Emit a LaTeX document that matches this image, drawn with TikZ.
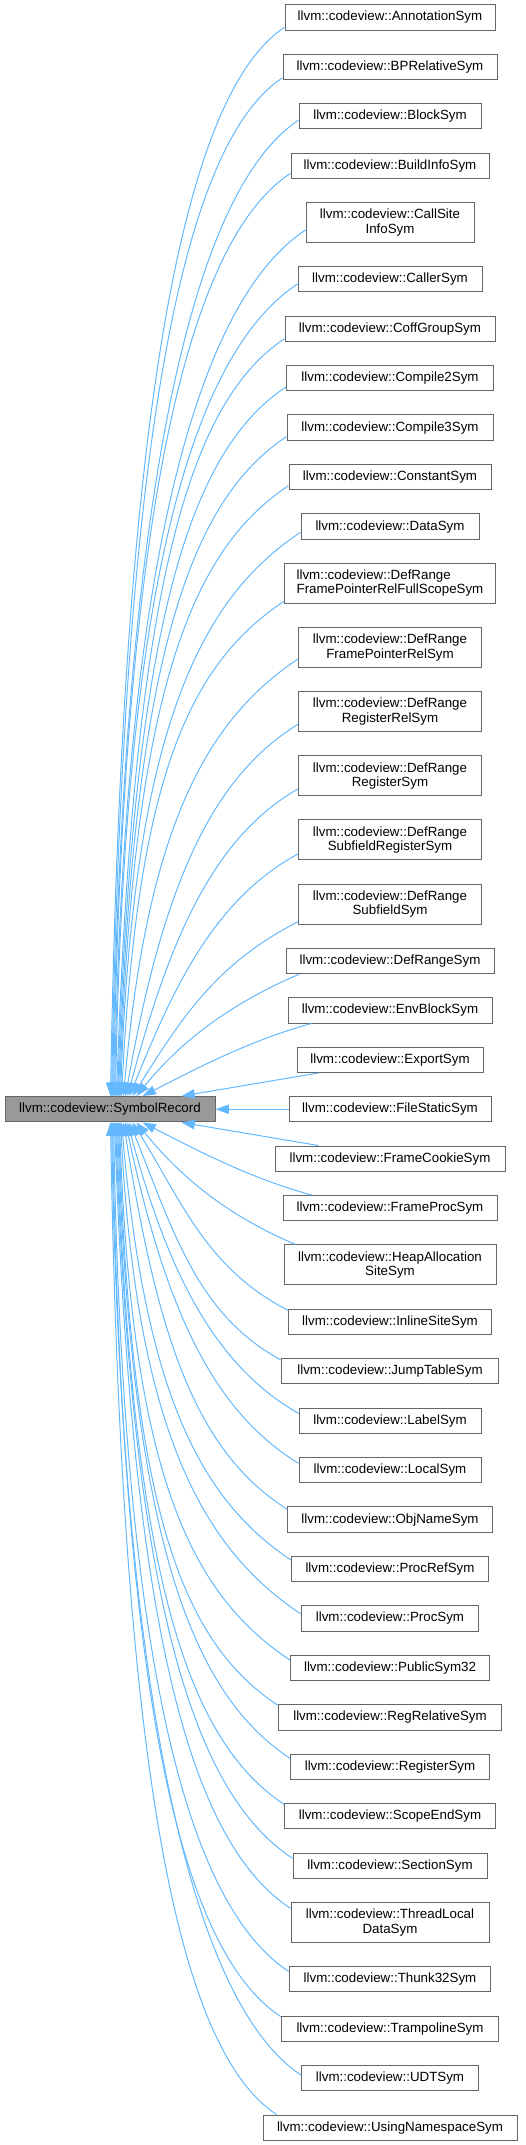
\documentclass[tikz,border=0pt]{standalone}
\usepackage{fontspec}
\setmainfont{Liberation Sans}
\usetikzlibrary{arrows.meta,calc}
\definecolor{edgeblue}{HTML}{63B8FF}
\definecolor{boxgray}{HTML}{666666}
\definecolor{recfill}{HTML}{999999}
\tikzset{
  cls/.style={draw=boxgray, fill=white, line width=0.75pt, text=black,
    font=\fontsize{10pt}{10.7pt}\selectfont, align=center,
    inner xsep=2pt, inner ysep=1pt, minimum height=19pt},
  two/.style={minimum height=30pt},
  bw/.style={minimum width=#1*0.75pt},
  parent/.style={cls, fill=recfill},
  edge/.style={draw=edgeblue, line width=0.75pt, -{Triangle[length=10pt,width=7pt]}}
}
\begin{document}
\begin{tikzpicture}[x=0.75pt,y=-0.75pt]
\useasboundingbox (0,0) rectangle (525,2145);
\node[parent, bw=210] (rec) at (110,1109.25) {llvm::codeview::SymbolRecord};
\node[cls, bw=210] (c1) at (390,17.35) {llvm::codeview::AnnotationSym};
\node[cls, bw=214] (c2) at (390,66.8) {llvm::codeview::BPRelativeSym};
\node[cls, bw=182] (c3) at (390,116.25) {llvm::codeview::BlockSym};
\node[cls, bw=198] (c4) at (390,165.7) {llvm::codeview::BuildInfoSym};
\node[cls, two, bw=168] (c5) at (390,222.5) {llvm::codeview::CallSite\\InfoSym};
\node[cls, bw=184] (c6) at (390,279.3) {llvm::codeview::CallerSym};
\node[cls, bw=210] (c7) at (390,328.75) {llvm::codeview::CoffGroupSym};
\node[cls, bw=207] (c8) at (390,378.2) {llvm::codeview::Compile2Sym};
\node[cls, bw=206] (c9) at (390,427.65) {llvm::codeview::Compile3Sym};
\node[cls, bw=202] (c10) at (390,477.1) {llvm::codeview::ConstantSym};
\node[cls, bw=178] (c11) at (390,526.55) {llvm::codeview::DataSym};
\node[cls, two, bw=211, align=left] (c12) at (390,583.35) {llvm::codeview::DefRange\\FramePointerRelFullScopeSym};
\node[cls, two, bw=183] (c13) at (390,647.5) {llvm::codeview::DefRange\\FramePointerRelSym};
\node[cls, two, bw=183] (c14) at (390,711.65) {llvm::codeview::DefRange\\RegisterRelSym};
\node[cls, two, bw=183] (c15) at (390,775.8) {llvm::codeview::DefRange\\RegisterSym};
\node[cls, two, bw=183] (c16) at (390,839.95) {llvm::codeview::DefRange\\SubfieldRegisterSym};
\node[cls, two, bw=183] (c17) at (390,904.1) {llvm::codeview::DefRange\\SubfieldSym};
\node[cls, bw=208] (c18) at (390,960.9) {llvm::codeview::DefRangeSym};
\node[cls, bw=204] (c19) at (390,1010.35) {llvm::codeview::EnvBlockSym};
\node[cls, bw=186] (c20) at (390,1059.8) {llvm::codeview::ExportSym};
\node[cls, bw=202] (c21) at (390,1109.25) {llvm::codeview::FileStaticSym};
\node[cls, bw=230] (c22) at (390,1158.7) {llvm::codeview::FrameCookieSym};
\node[cls, bw=214] (c23) at (390,1208.15) {llvm::codeview::FrameProcSym};
\node[cls, two, bw=212] (c24) at (390,1264.95) {llvm::codeview::HeapAllocation\\SiteSym};
\node[cls, bw=203] (c25) at (390,1321.75) {llvm::codeview::InlineSiteSym};
\node[cls, bw=217] (c26) at (390,1371.2) {llvm::codeview::JumpTableSym};
\node[cls, bw=182] (c27) at (390,1420.65) {llvm::codeview::LabelSym};
\node[cls, bw=182] (c28) at (390,1470.1) {llvm::codeview::LocalSym};
\node[cls, bw=205] (c29) at (390,1519.55) {llvm::codeview::ObjNameSym};
\node[cls, bw=197] (c30) at (390,1569.0) {llvm::codeview::ProcRefSym};
\node[cls, bw=177] (c31) at (390,1618.45) {llvm::codeview::ProcSym};
\node[cls, bw=199] (c32) at (390,1667.9) {llvm::codeview::PublicSym32};
\node[cls, bw=223] (c33) at (390,1717.35) {llvm::codeview::RegRelativeSym};
\node[cls, bw=199] (c34) at (390,1766.8) {llvm::codeview::RegisterSym};
\node[cls, bw=211] (c35) at (390,1816.25) {llvm::codeview::ScopeEndSym};
\node[cls, bw=194] (c36) at (390,1865.7) {llvm::codeview::SectionSym};
\node[cls, two, bw=198] (c37) at (390,1922.5) {llvm::codeview::ThreadLocal\\DataSym};
\node[cls, bw=201] (c38) at (390,1979.3) {llvm::codeview::Thunk32Sym};
\node[cls, bw=217] (c39) at (390,2028.75) {llvm::codeview::TrampolineSym};
\node[cls, bw=177] (c40) at (390,2078.2) {llvm::codeview::UDTSym};
\node[cls, bw=254] (c41) at (390,2127.65) {llvm::codeview::UsingNamespaceSym};
% edges from the upper children
\draw[edge] ($(c1.west)+(0,10)$) .. controls +(-100,66) and +(12,-695) .. ($(rec.north west)+(106,0)$);
\draw[edge] ($(c2.west)+(0,11)$) .. controls +(-100,66) and +(12,-662) .. ($(rec.north west)+(107,0)$);
\draw[edge] ($(c3.west)+(0,4)$) .. controls +(-100,66) and +(11,-635) .. ($(rec.north west)+(108,0)$);
\draw[edge] ($(c4.west)+(0,7.6)$) .. controls +(-100,66) and +(10,-600) .. ($(rec.north west)+(109,0)$);
\draw[edge] ($(c5.west)+(0,7.5)$) .. controls +(-100,66) and +(10,-564) .. ($(rec.north west)+(110,0)$);
\draw[edge] ($(c6.west)+(0,4.7)$) .. controls +(-100,66) and +(9,-528) .. ($(rec.north west)+(111,0)$);
\draw[edge] ($(c7.west)+(0,10)$) .. controls +(-100,66) and +(17,-493) .. ($(rec.north west)+(112,0)$);
\draw[edge] ($(c8.west)+(0,8.8)$) .. controls +(-100,66) and +(16,-461) .. ($(rec.north west)+(113,0)$);
\draw[edge] ($(c9.west)+(0,9)$) .. controls +(-100,66) and +(15,-429) .. ($(rec.north west)+(114,0)$);
\draw[edge] ($(c10.west)+(0,8.6)$) .. controls +(-100,66) and +(14,-397) .. ($(rec.north west)+(115,0)$);
\draw[edge] ($(c11.west)+(0,5.8)$) .. controls +(-100,66) and +(13,-367) .. ($(rec.north west)+(116,0)$);
\draw[edge] ($(c12.west)+(0,18)$) .. controls +(-100,66) and +(16,-307) .. ($(rec.north west)+(117,0)$);
\draw[edge] ($(c13.west)+(0,11.5)$) .. controls +(-95,63) and +(23,-262) .. ($(rec.north west)+(119,0)$);
\draw[edge] ($(c14.west)+(0,12.7)$) .. controls +(-90,55) and +(36,-202) .. ($(rec.north west)+(121,0)$);
\draw[edge] ($(c15.west)+(0,13.2)$) .. controls +(-88,50) and +(40,-149) .. ($(rec.north west)+(123,0)$);
\draw[edge] ($(c16.west)+(0,14)$) .. controls +(-85,46) and +(43,-106) .. ($(rec.north west)+(125,0)$);
\draw[edge] ($(c17.west)+(0,17.6)$) .. controls +(-82,42) and +(49,-78) .. ($(rec.north west)+(128,0)$);
\draw[edge] ($(c18.south west)+(14,0)$) .. controls +(-66,28) and +(45,-56) .. ($(rec.north west)+(132,0)$);
\draw[edge] ($(c19.south west)+(24,0)$) .. controls +(-62,17) and +(57,-29) .. ($(rec.north west)+(138,0)$);
\draw[edge] ($(c20.south west)+(22,0)$) -- ($(rec.north west)+(177,0)$);
% middle
\draw[edge] (c21.west) -- (rec.east);
% edges from the lower children
\draw[edge] ($(c22.north west)+(44,0)$) -- ($(rec.south west)+(177,0)$);
\draw[edge] ($(c23.north west)+(29,0)$) .. controls +(-62,-17) and +(57,29) .. ($(rec.south west)+(138,0)$);
\draw[edge] ($(c24.north west)+(12,0)$) .. controls +(-66,-28) and +(45,56) .. ($(rec.south west)+(132,0)$);
\draw[edge] ($(c25.west)+(0,-11.5)$) .. controls +(-82,-42) and +(49,78) .. ($(rec.south west)+(128,0)$);
\draw[edge] ($(c26.west)+(0,-11.2)$) .. controls +(-85,-46) and +(43,106) .. ($(rec.south west)+(125,0)$);
\draw[edge] ($(c27.west)+(0,-7.3)$) .. controls +(-88,-50) and +(38,141) .. ($(rec.south west)+(123,0)$);
\draw[edge] ($(c28.west)+(0,-6.8)$) .. controls +(-90,-55) and +(38,177) .. ($(rec.south west)+(121,0)$);
\draw[edge] ($(c29.west)+(0,-10.5)$) .. controls +(-92,-58) and +(34,214) .. ($(rec.south west)+(119,0)$);
\draw[edge] ($(c30.west)+(0,-9)$) .. controls +(-95,-63) and +(23,262) .. ($(rec.south west)+(117,0)$);
\draw[edge] ($(c31.west)+(0,-4.5)$) .. controls +(-100,-66) and +(16,305) .. ($(rec.south west)+(116,0)$);
\draw[edge] ($(c32.west)+(0,-7.9)$) .. controls +(-100,-66) and +(12,350) .. ($(rec.south west)+(115,0)$);
\draw[edge] ($(c33.west)+(0,-12)$) .. controls +(-100,-66) and +(13,379) .. ($(rec.south west)+(114,0)$);
\draw[edge] ($(c34.west)+(0,-8.5)$) .. controls +(-100,-66) and +(14,413) .. ($(rec.south west)+(113,0)$);
\draw[edge] ($(c35.west)+(0,-12)$) .. controls +(-100,-66) and +(15,443) .. ($(rec.south west)+(112,0)$);
\draw[edge] ($(c36.west)+(0,-7.4)$) .. controls +(-100,-66) and +(17,478) .. ($(rec.south west)+(111,0)$);
\draw[edge] ($(c37.west)+(0,-14.2)$) .. controls +(-100,-66) and +(18,511) .. ($(rec.south west)+(110,0)$);
\draw[edge] ($(c38.west)+(0,-7.6)$) .. controls +(-100,-66) and +(10,552) .. ($(rec.south west)+(109,0)$);
\draw[edge] ($(c39.west)+(0,-12)$) .. controls +(-100,-66) and +(10,582) .. ($(rec.south west)+(108,0)$);
\draw[edge] ($(c40.west)+(0,-3.2)$) .. controls +(-100,-66) and +(11,619) .. ($(rec.south west)+(107,0)$);
\draw[edge] ($(c41.north west)+(14,0)$) .. controls +(-100,-66) and +(11,645) .. ($(rec.south west)+(106,0)$);
\end{tikzpicture}
\end{document}
